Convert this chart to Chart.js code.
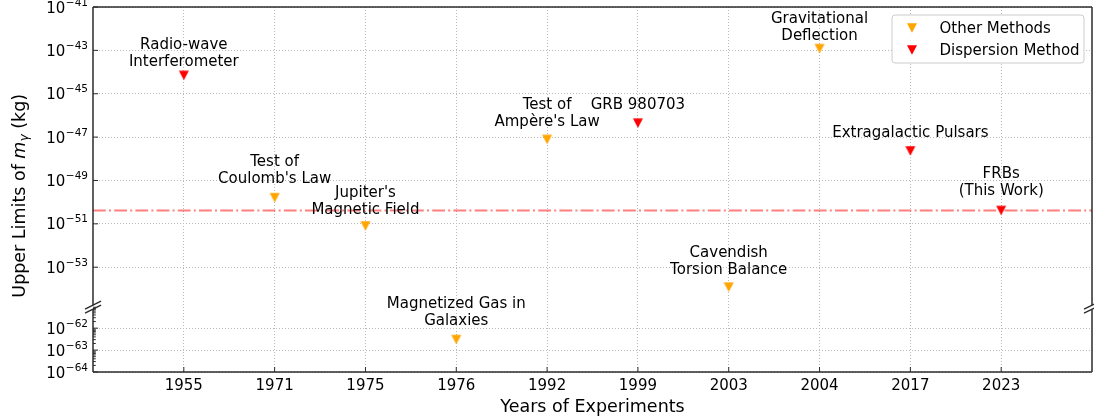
<!DOCTYPE html>
<html>
<head>
<meta charset="utf-8">
<script src="https://cdn.jsdelivr.net/npm/chart.js"></script>
<style>
  html, body { margin: 0; padding: 0; background: #fff; }
  canvas { display: block; }
</style>
</head>
<body>
<canvas id="chart" width="1094" height="417"></canvas>
<script>
// experiments, one entry per year on the x axis
const years = ['1955', '1971', '1975', '1976', '1992', '1999', '2003', '2004', '2017', '2023'];
const limits = [7e-45, 1.6e-50, 8e-52, 3e-63, 7.8e-48, 4.4e-47, 1.2e-54, 1.2e-43, 2.3e-48, 4.1e-51];
const methods = ['dispersion', 'other', 'other', 'other', 'other', 'dispersion', 'other', 'other', 'dispersion', 'dispersion'];
const experimentNames = [
    ['Radio-wave', 'Interferometer'],
    ['Test of', "Coulomb's Law"],
    ["Jupiter's", 'Magnetic Field'],
    ['Magnetized Gas in', 'Galaxies'],
    ['Test of', "Ampère's Law"],
    ['GRB 980703'],
    ['Cavendish', 'Torsion Balance'],
    ['Gravitational', 'Deflection'],
    ['Extragalactic Pulsars'],
    ['FRBs', '(This Work)']
];
const thisWorkLimit = 4.1e-51;

// broken y axis: exponents of the tick labels and of the two axis ranges
const upperTicks = [-53, -51, -49, -47, -45, -43, -41];
const lowerTicks = [-64, -63, -62];
const upperRange = [-54.82, -41];
const lowerRange = [-64, -61.02];

const FONT = '"DejaVu Sans", sans-serif';
const ORANGE = '#ffa500';
const RED = '#ff0000';
const GRID = '#b8b8b8';
const SPINE = '#2b2b2b';

// matplotlib-like 'v' marker
function triangleMarker(color) {
    const c = document.createElement('canvas');
    c.width = 12;
    c.height = 12;
    const g = c.getContext('2d');
    g.fillStyle = color;
    g.beginPath();
    g.moveTo(1, 1.25);
    g.lineTo(11, 1.25);
    g.lineTo(6, 10.75);
    g.closePath();
    g.fill();
    return c;
}
const orangeMarker = triangleMarker(ORANGE);
const redMarker = triangleMarker(RED);

const upperMin = Math.pow(10, upperRange[0]);

function pointsFor(kind, low) {
    return years
        .map((_, i) => ({ x: i, y: limits[i] }))
        .filter(p => methods[p.x] === kind && (p.y < upperMin) === low);
}

// distance from marker centre to baseline of the last label line
const labelLift = [9.5, 15, 12, 14.5, 13, 14, 13.5, 9, 13.5, 15.5];
const LINE_H = 17;

function drawPower(ctx, exp, xr, y) {
    const base = '10';
    const sup = '\u2212' + Math.abs(exp);
    ctx.font = '15px ' + FONT;
    const wb = ctx.measureText(base).width;
    ctx.font = '10.5px ' + FONT;
    const ws = ctx.measureText(sup).width;
    const x0 = xr - ws - wb - 0.5;
    ctx.textAlign = 'left';
    ctx.textBaseline = 'alphabetic';
    ctx.font = '15px ' + FONT;
    ctx.fillText(base, x0, y + 5.5);
    ctx.font = '10.5px ' + FONT;
    ctx.fillText(sup, x0 + wb + 0.5, y - 1.5);
}

function line(ctx, x1, y1, x2, y2) {
    ctx.beginPath();
    ctx.moveTo(x1, y1);
    ctx.lineTo(x2, y2);
    ctx.stroke();
}

const decor = {
    id: 'decor',
    afterDraw(chart) {
        const ctx = chart.ctx;
        const area = chart.chartArea;
        const xs = chart.scales.x;
        const yUp = chart.scales.y;
        const yLo = chart.scales.yLow;
        const upBottom = yUp.bottom - 1.5;
        const loTop = yLo.top + 2.5;

        ctx.save();

        // annotations
        ctx.fillStyle = '#000';
        ctx.font = '15px ' + FONT;
        ctx.textAlign = 'center';
        ctx.textBaseline = 'alphabetic';
        years.forEach((_, i) => {
            const yScale = limits[i] < upperMin ? yLo : yUp;
            const px = xs.getPixelForValue(i);
            const py = yScale.getPixelForValue(limits[i]);
            const lines = experimentNames[i];
            lines.forEach((t, k) => {
                ctx.fillText(t, px, py - labelLift[i] - (lines.length - 1 - k) * LINE_H);
            });
        });

        // spines
        ctx.strokeStyle = SPINE;
        ctx.lineWidth = 1.5;
        line(ctx, area.left, area.top, area.right, area.top);
        line(ctx, area.left, area.top, area.left, upBottom);
        line(ctx, area.right, area.top, area.right, upBottom);
        line(ctx, area.left, loTop, area.left, area.bottom);
        line(ctx, area.right, loTop, area.right, area.bottom);
        line(ctx, area.left, area.bottom, area.right, area.bottom);

        // break marks
        ctx.lineWidth = 1.3;
        [area.left, area.right].forEach(x => {
            line(ctx, x - 8, upBottom + 4, x + 8, upBottom - 4);
            line(ctx, x - 8, loTop + 4, x + 8, loTop - 4);
        });

        // tick marks (inward)
        ctx.lineWidth = 1;
        years.forEach((_, i) => {
            const px = xs.getPixelForValue(i);
            line(ctx, px, area.bottom, px, area.bottom - 5);
        });
        upperTicks.forEach(e => {
            const py = yUp.getPixelForValue(Math.pow(10, e));
            line(ctx, area.left, py, area.left + 5, py);
        });
        lowerTicks.forEach(e => {
            const py = yLo.getPixelForValue(Math.pow(10, e));
            line(ctx, area.left, py, area.left + 5, py);
            for (let k = 2; k <= 9; k++) {
                const v = k * Math.pow(10, e);
                if (v > Math.pow(10, lowerRange[1])) break;
                const my = yLo.getPixelForValue(v);
                line(ctx, area.left, my, area.left + 2.8, my);
            }
        });

        // tick labels
        ctx.fillStyle = '#000';
        upperTicks.forEach(e => drawPower(ctx, e, area.left - 5, yUp.getPixelForValue(Math.pow(10, e))));
        lowerTicks.forEach(e => drawPower(ctx, e, area.left - 5, yLo.getPixelForValue(Math.pow(10, e))));
        ctx.font = '15px ' + FONT;
        ctx.textAlign = 'center';
        ctx.textBaseline = 'alphabetic';
        years.forEach((yr, i) => ctx.fillText(yr, xs.getPixelForValue(i), area.bottom + 17.5));

        // axis titles
        ctx.font = '17.5px ' + FONT;
        ctx.fillText('Years of Experiments', (area.left + area.right) / 2, 411.5);

        ctx.save();
        ctx.translate(24.5, 195.8);
        ctx.rotate(-Math.PI / 2);
        const parts = [
            { t: 'Upper Limits of ', f: '17.5px ' + FONT, dy: 0 },
            { t: 'm', f: 'italic 17.5px ' + FONT, dy: 0 },
            { t: '\u03b3', f: 'italic 12.2px ' + FONT, dy: 3.5 },
            { t: ' (kg)', f: '17.5px ' + FONT, dy: 0 }
        ];
        let total = 0;
        parts.forEach(p => { ctx.font = p.f; p.w = ctx.measureText(p.t).width; total += p.w; });
        let cx = -total / 2;
        ctx.textAlign = 'left';
        parts.forEach(p => { ctx.font = p.f; ctx.fillText(p.t, cx, p.dy); cx += p.w; });
        ctx.restore();

        // legend
        const lx = 892, ly = 15, lw = 192, lh = 48;
        ctx.fillStyle = 'rgba(255,255,255,0.85)';
        ctx.strokeStyle = '#cccccc';
        ctx.lineWidth = 1;
        ctx.beginPath();
        ctx.roundRect(lx, ly, lw, lh, 3);
        ctx.fill();
        ctx.stroke();
        const entries = [
            { m: orangeMarker, t: 'Other Methods', y: 28 },
            { m: redMarker, t: 'Dispersion Method', y: 50 }
        ];
        ctx.fillStyle = '#000';
        ctx.font = '15px ' + FONT;
        ctx.textAlign = 'left';
        entries.forEach(en => {
            ctx.drawImage(en.m, 912 - 6, en.y - 6);
            ctx.fillText(en.t, 939.5, en.y + 4.5);
        });

        ctx.restore();
    }
};

const gridOpts = { color: GRID, lineWidth: 1, drawTicks: false };
const borderOpts = { display: false, dash: [1, 2] };

new Chart(document.getElementById('chart'), {
    type: 'scatter',
    data: {
        datasets: [
            {
                label: 'Other Methods',
                data: pointsFor('other', false),
                yAxisID: 'y',
                pointStyle: orangeMarker,
                pointRadius: 5,
                order: 1
            },
            {
                label: 'Other Methods (low)',
                data: pointsFor('other', true),
                yAxisID: 'yLow',
                pointStyle: orangeMarker,
                pointRadius: 5,
                order: 1
            },
            {
                label: 'Dispersion Method',
                data: pointsFor('dispersion', false),
                yAxisID: 'y',
                pointStyle: redMarker,
                pointRadius: 5,
                order: 0
            },
            {
                label: 'This work',
                type: 'line',
                data: [{ x: -1, y: thisWorkLimit }, { x: 10, y: thisWorkLimit }],
                yAxisID: 'y',
                borderColor: 'rgba(255,0,0,0.5)',
                borderWidth: 2,
                borderDash: [12.8, 3.2, 2, 3.2],
                pointRadius: 0,
                fill: false,
                order: 5
            }
        ]
    },
    options: {
        responsive: false,
        animation: false,
        devicePixelRatio: 1,
        layout: { autoPadding: false, padding: { left: 93, right: 2, top: 7, bottom: 45 } },
        plugins: { legend: { display: false }, tooltip: { enabled: false } },
        scales: {
            x: {
                type: 'linear',
                min: -1,
                max: 10,
                ticks: { display: false },
                grid: gridOpts,
                border: borderOpts,
                afterBuildTicks: s => { s.ticks = years.map((_, i) => ({ value: i })); }
            },
            yLow: {
                type: 'logarithmic',
                position: 'left',
                stack: 'broken',
                stackWeight: 65.2,
                weight: 0,
                min: Math.pow(10, lowerRange[0]),
                max: Math.pow(10, lowerRange[1]),
                ticks: { display: false },
                grid: gridOpts,
                border: borderOpts,
                afterBuildTicks: s => { s.ticks = lowerTicks.map(e => ({ value: Math.pow(10, e) })); }
            },
            y: {
                type: 'logarithmic',
                position: 'left',
                stack: 'broken',
                stackWeight: 299.1,
                weight: 1,
                min: Math.pow(10, upperRange[0]),
                max: Math.pow(10, upperRange[1]),
                ticks: { display: false },
                grid: gridOpts,
                border: borderOpts,
                afterBuildTicks: s => { s.ticks = upperTicks.map(e => ({ value: Math.pow(10, e) })); }
            }
        }
    },
    plugins: [decor]
});
</script>
</body>
</html>
